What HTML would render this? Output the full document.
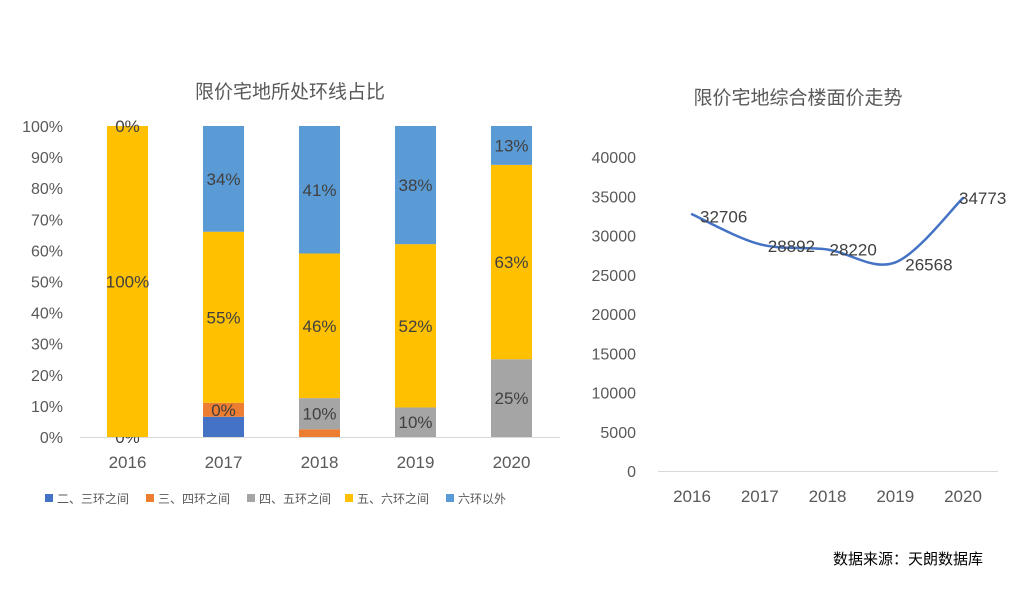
<!DOCTYPE html>
<html><head><meta charset="utf-8"><style>
body{margin:0;background:#fff;width:1025px;height:608px;overflow:hidden;font-family:"Liberation Sans","Noto Sans CJK SC",sans-serif;}
svg text{font-family:"Liberation Sans","Noto Sans CJK SC",sans-serif;}
</style></head><body>
<svg id="c" width="1025" height="608">
<text x="290" y="98" font-size="19" fill="#595959" text-anchor="middle">限价宅地所处环线占比</text>
<text x="798" y="104" font-size="19" fill="#595959" text-anchor="middle">限价宅地综合楼面价走势</text>
<text x="908" y="564" font-size="15" fill="#000" text-anchor="middle">数据来源：天朗数据库</text>
<g id="left"></g><g id="right"></g>
</svg>
<script>
const years=["2016","2017","2018","2019","2020"];
const seriesNames=["二、三环之间","三、四环之间","四、五环之间","五、六环之间","六环以外"];
const seriesColors=["#4472C4","#ED7D31","#A5A5A5","#FFC000","#5B9BD5"];
const s23=[0,6.5,0,0,0];
const s34=[0,4.5,2.5,0,0];
const s45=[0,0,10,9.5,25];
const s56=[100,55,46.5,52.5,62.5];
const s6o=[0,34,41,38,12.5];
const lab23=[null,null,null,null,null];
const lab34=[null,"0%",null,null,null];
const lab45=["0%",null,"10%","10%","25%"];
const lab56=["100%","55%","46%","52%","63%"];
const lab6o=["0%","34%","41%","38%","13%"];
const pctTicks=[0,10,20,30,40,50,60,70,80,90,100];
const prices=[32706,28892,28220,26568,34773];
const priceTicks=[0,5000,10000,15000,20000,25000,30000,35000,40000];
const NS="http://www.w3.org/2000/svg";
function mk(t,a,p,txt){const e=document.createElementNS(NS,t);for(const k in a)e.setAttribute(k,a[k]);if(txt!=null)e.textContent=txt;p.appendChild(e);return e;}
const L=document.getElementById('left');
const yL=v=>437-v*3.11;
const xL=i=>127.5+i*96;
pctTicks.forEach(t=>{const e=mk('text',{x:63,y:yL(t)+6,'font-size':16,fill:'#595959','text-anchor':'end'},L,t+'%');

});
const ax=mk('line',{x1:80,x2:560,y1:437.5,y2:437.5,stroke:'#d9d9d9'},L);


const S=[s23,s34,s45,s56,s6o],LB=[lab23,lab34,lab45,lab56,lab6o];
years.forEach((y,i)=>{let base=0;
 S.forEach((s,k)=>{const v=s[i];
  if(v>0){const r=mk('rect',{x:xL(i)-20.5,width:41,y:yL(base+v),height:v*3.11,fill:seriesColors[k]},L);
  
  }
  const lb=LB[k][i];
  if(lb){const t=mk('text',{x:xL(i),y:yL(base+v/2)+6,'font-size':17,fill:'#404040','text-anchor':'middle'},L,lb);
  
  }
  base+=v;});
 const t=mk('text',{x:xL(i),y:468,'font-size':17,fill:'#595959','text-anchor':'middle'},L,y);
 
 });
const lx=[45,146,247,345,446];
seriesNames.forEach((n,k)=>{const g=mk('g',{},L);
 
 
 mk('rect',{x:lx[k],y:494,width:8,height:8,fill:seriesColors[k]},g);
 mk('text',{x:lx[k]+12,y:503,'font-size':12,fill:'#595959'},g,n);});
const R=document.getElementById('right');
const yR=v=>471-v*314/40000;
const xR=i=>692+i*67.75;
priceTicks.forEach(t=>{const e=mk('text',{x:636,y:yR(t)+6,'font-size':16,fill:'#595959','text-anchor':'end'},R,t);

});
const ax2=mk('line',{x1:658,x2:998,y1:471.5,y2:471.5,stroke:'#d9d9d9'},R);


const pts=prices.map((v,i)=>[xR(i),yR(v)]);
let d='M'+pts[0][0]+','+pts[0][1];
for(let i=0;i<pts.length-1;i++){const p0=pts[Math.max(0,i-1)],p1=pts[i],p2=pts[i+1],p3=pts[Math.min(pts.length-1,i+2)];
 const c1=[p1[0]+(p2[0]-p0[0])/6,p1[1]+(p2[1]-p0[1])/6],c2=[p2[0]-(p3[0]-p1[0])/6,p2[1]-(p3[1]-p1[1])/6];
 d+=' C'+c1+' '+c2+' '+p2;}
const ln=mk('path',{d:d,fill:'none',stroke:'#4472C4','stroke-width':2.5,'stroke-linecap':'round'},R);


const off=[[8,8],[8,8],[2,6],[10,8],[-4,6]];
prices.forEach((v,i)=>{const t=mk('text',{x:pts[i][0]+off[i][0],y:pts[i][1]+off[i][1],'font-size':17,fill:'#404040'},R,v);
 
 
 const x=mk('text',{x:xR(i),y:502,'font-size':17,fill:'#595959','text-anchor':'middle'},R,years[i]);
 
 });
</script>
</body></html>
